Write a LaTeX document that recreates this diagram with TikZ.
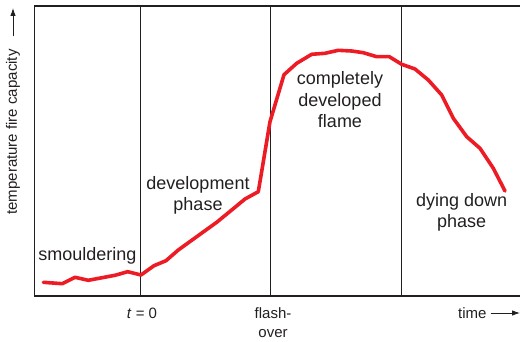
\documentclass[tikz,border=0pt]{standalone}
\usepackage{fontspec}
\setmainfont{Liberation Sans}
\usetikzlibrary{arrows.meta}
\definecolor{curvered}{HTML}{ED1C24}
\definecolor{ink}{HTML}{231F20}
\begin{document}
\begin{tikzpicture}[x=1pt,y=-1pt,
  lbl/.style={inner sep=0pt,align=center,text=ink,font=\fontsize{18}{21.6}\selectfont},
  axlbl/.style={inner sep=0pt,align=center,text=ink,font=\fontsize{15}{19}\selectfont},
  frame/.style={draw=ink,line width=1.6pt},
  divider/.style={draw=ink,line width=0.8pt},
  fire/.style={draw=curvered,line width=3.6pt,line join=round,line cap=round},
  axarrow/.style={draw=ink,line width=0.9pt,-{Latex[length=8pt,width=5.5pt]}}]
\useasboundingbox (0,0) rectangle (520,342);
% frame
\draw[frame] (520,6.3) -- (34.5,6.3) -- (34.5,296) -- (520,296);
% phase dividers
\draw[divider] (140.3,6.3) -- (140.3,296);
\draw[divider] (270.3,6.3) -- (270.3,296);
\draw[divider] (401.3,6.3) -- (401.3,296);
% curve
\draw[fire] (43.3,282.3) -- (62.3,283.7) -- (75,277.3) -- (88.3,280.3) -- (115,275.3)
 -- (127.7,271.7) -- (141,275) -- (154,265.7) -- (166,260.7) -- (178.3,250)
 -- (196.7,236.7) -- (216.7,222.3) -- (231.7,210) -- (245,199) -- (258.3,191.7)
 -- (270,121.7) -- (284,74.7) -- (296.7,63.3) -- (311.7,54.3) -- (325,53.3)
 -- (338.3,50.3) -- (351.7,51) -- (363.3,52.7) -- (376.7,56.7) -- (389.3,56.7)
 -- (401.7,64.3) -- (415,69) -- (428.3,80) -- (441.7,95) -- (453.3,118.3)
 -- (466.7,136.7) -- (480,148.3) -- (493.3,168.3) -- (505,191);
% phase labels (base = baseline of last line)
\node[lbl,anchor=base] (smould) at (87.3,261) {smouldering};
\node[lbl,anchor=base] (devel) at (198,210.7) {development\\phase};
\node[lbl,anchor=base] (compl) at (340,127.7) {completely\\developed\\flame};
\node[lbl,anchor=base] (dying) at (461.7,227.7) {dying down\\phase};
% axis labels
\node[axlbl,anchor=base] (tzero) at (142,318) {\textit{t} = 0};
\node[axlbl,anchor=base] (flash) at (273,337) {flash-\\over};
\node[axlbl,anchor=base east] (time) at (486.7,318) {time};
\coordinate (timeend) at (520,313);
\draw[axarrow] (time.base east) ++(4,-5) coordinate (timestart) -- (timestart -| timeend);
\node[axlbl,rotate=90] (ylab) at (13,132) {temperature fire capacity};
\coordinate (yend) at (13,8);
\draw[axarrow] (ylab.east) ++(0,-13) coordinate (ystart) -- (yend);
\end{tikzpicture}
\end{document}
